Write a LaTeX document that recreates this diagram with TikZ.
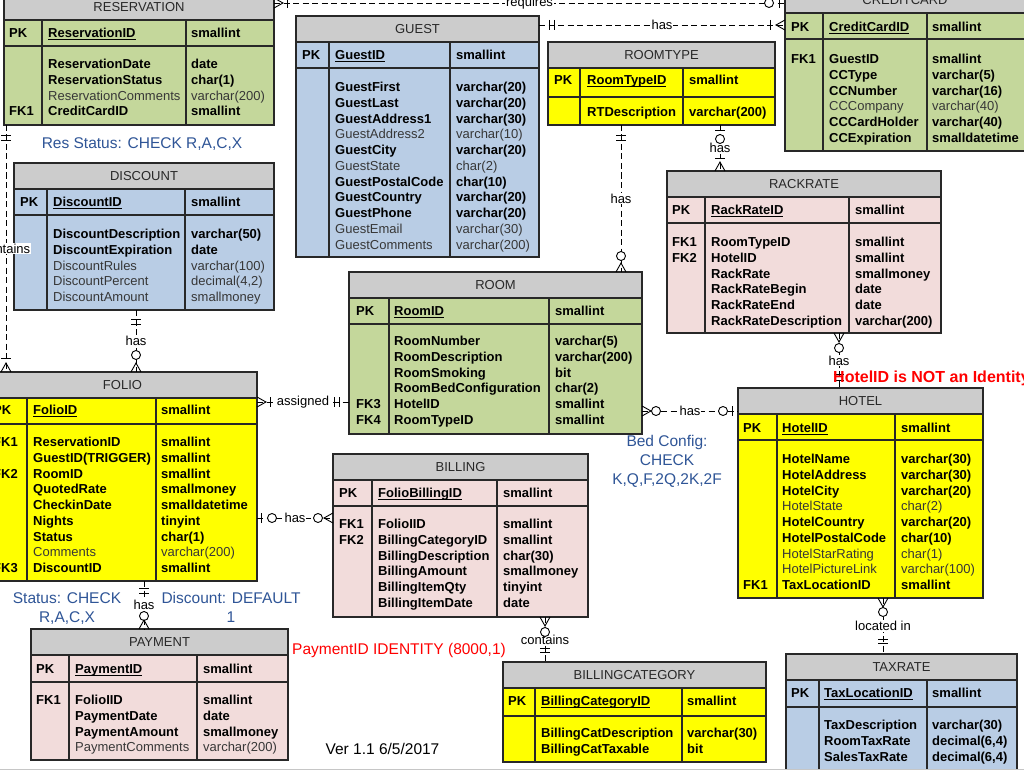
\documentclass[tikz,border=0pt]{standalone}
\usepackage{fontspec}
\setmainfont{Liberation Sans}
\usetikzlibrary{calc}
\definecolor{hdrgray}{RGB}{204,204,204}
\definecolor{grn}{RGB}{196,215,155}
\definecolor{blu}{RGB}{185,205,229}
\definecolor{pnk}{RGB}{242,220,219}
\definecolor{ylw}{RGB}{255,255,0}
\definecolor{tabdraw}{RGB}{40,40,40}
\definecolor{titletxt}{RGB}{40,40,40}
\definecolor{regtxt}{RGB}{55,55,55}
\definecolor{noteblue}{RGB}{47,85,151}
\definecolor{notered}{RGB}{255,0,0}
\newcommand\tabfont{\fontsize{13}{15.75}\selectfont}
\newcommand\notefont{\fontsize{15.5}{19}\selectfont}
\newcommand\Bf[1]{\strut\textbf{#1}}
\newcommand\Rg[1]{\strut\textcolor{regtxt}{#1}}
\newcommand\Em{\strut}
\newcommand\myul[1]{\setbox0\hbox{#1}\rlap{\rule[-2.3pt]{\wd0}{1.1pt}}\box0}
\def\pkh{52}
\newcommand\ertab[9]{%
  \node[tab, fill=#2, minimum width={#5-(#3)}, minimum height={#6-(#4)}] (#1) at (#3,#4) {};
  \fill[hdrgray] (#3,#4) rectangle (#5,#4+26);
  \draw[tabline] (#3,#4+26) -- (#5,#4+26) (#3,#4+\pkh) -- (#5,#4+\pkh) (#7,#4+26) -- (#7,#6) (#8,#4+26) -- (#8,#6);
  \draw[tabline] (#3,#4) rectangle (#5,#6);
  \node[ttl] (#1-title) at ({(#3+#5)/2},#4+13) {#9};
}
\newcommand\pkline[6]{%
  \node[cell, font=\tabfont\bfseries] (#1-pk) at (#2,#5+4.5) {PK};
  \node[cell] (#1-pkn) at (#3,#5+4.5) {\myul{\textbf{#6}}};
  \node[cell, font=\tabfont\bfseries] (#1-pkt) at (#4,#5+4.5) {smallint};
}
\newcommand\erbody[8]{%
  \node[colm] (#1-fk) at (#2,#5-6.525) {#6};
  \node[colm] (#1-fl) at (#3,#5-6.525) {#7};
  \node[colm] (#1-ty) at (#4,#5-6.525) {#8};
}
\begin{document}
\begin{tikzpicture}[x=1pt,y=-1pt,
  tab/.style={anchor=north west, inner sep=0pt, outer sep=0pt, draw=tabdraw, line width=1.1pt},
  tabline/.style={draw=tabdraw, line width=1.1pt},
  ttl/.style={font=\tabfont, text=titletxt, inner sep=0pt},
  cell/.style={anchor=base west, inner sep=0pt, font=\tabfont},
  colm/.style={anchor=north west, inner sep=0pt, align=left, font=\tabfont},
  rel/.style={draw=black, line width=0.9pt, dash pattern=on 6pt off 3.5pt},
  lab/.style={fill=white, inner sep=1pt, font=\tabfont},
  note/.style={font=\notefont, text=noteblue, inner sep=0pt, anchor=base},
  crow/.pic={\draw[solid, line width=0.9pt] (0,-5) -- (9,0) -- (0,5);},
  bar/.pic={\draw[solid, line width=0.9pt] (0,-5) -- (0,5);},
  ring/.pic={\draw[solid, line width=0.9pt, fill=white] (0,0) circle[radius=4.5pt];},
]
\path[use as bounding box] (0,0) rectangle (1024,770);
\fill[white] (0,0) rectangle (1024,770);
\clip (0,0) rectangle (1024,770);

% ---------------- tables ----------------
\ertab{res}{grn}{4}{-6}{274}{125}{42}{186}{RESERVATION}
\pkline{res}{9}{48}{191}{33}{ReservationID}
\erbody{res}{9}{48}{191}{64}{\Em\\\Em\\\Em\\\Bf{FK1}}{\Bf{ReservationDate}\\\Bf{ReservationStatus}\\\Rg{ReservationComments}\\\Bf{CreditCardID}}{\Bf{date}\\\Bf{char(1)}\\\Rg{varchar(200)}\\\Bf{smallint}}

\ertab{guest}{blu}{296}{16}{539}{257}{329}{450}{GUEST}
\pkline{guest}{302}{335}{456}{55}{GuestID}
\erbody{guest}{302}{335}{456}{87}{}{\Bf{GuestFirst}\\\Bf{GuestLast}\\\Bf{GuestAddress1}\\\Rg{GuestAddress2}\\\Bf{GuestCity}\\\Rg{GuestState}\\\Bf{GuestPostalCode}\\\Bf{GuestCountry}\\\Bf{GuestPhone}\\\Rg{GuestEmail}\\\Rg{GuestComments}}{\Bf{varchar(20)}\\\Bf{varchar(20)}\\\Bf{varchar(30)}\\\Rg{varchar(10)}\\\Bf{varchar(20)}\\\Rg{char(2)}\\\Bf{char(10)}\\\Bf{varchar(20)}\\\Bf{varchar(20)}\\\Rg{varchar(30)}\\\Rg{varchar(200)}}

\def\pkh{55}
\ertab{rtype}{ylw}{548}{42}{775}{125}{580}{683}{ROOMTYPE}
\pkline{rtype}{554}{587}{689}{80}{RoomTypeID}
\erbody{rtype}{554}{587}{689}{112}{}{\Bf{RTDescription}}{\Bf{varchar(200)}}
\def\pkh{52}

\ertab{cc}{grn}{785}{-13}{1025}{151}{823}{927}{CREDITCARD}
\pkline{cc}{791}{829}{932}{27}{CreditCardID}
\erbody{cc}{791}{829}{932}{59}{\Bf{FK1}}{\Bf{GuestID}\\\Bf{CCType}\\\Bf{CCNumber}\\\Rg{CCCompany}\\\Bf{CCCardHolder}\\\Bf{CCExpiration}}{\Bf{smallint}\\\Bf{varchar(5)}\\\Bf{varchar(16)}\\\Rg{varchar(40)}\\\Bf{varchar(40)}\\\Bf{smalldatetime}}

\ertab{disc}{blu}{14}{163}{274}{310}{47}{185}{DISCOUNT}
\pkline{disc}{20}{53}{191}{202}{DiscountID}
\erbody{disc}{20}{53}{191}{234}{}{\Bf{DiscountDescription}\\\Bf{DiscountExpiration}\\\Rg{DiscountRules}\\\Rg{DiscountPercent}\\\Rg{DiscountAmount}}{\Bf{varchar(50)}\\\Bf{date}\\\Rg{varchar(100)}\\\Rg{decimal(4,2)}\\\Rg{smallmoney}}

\ertab{room}{grn}{349}{272}{642}{434}{389}{549}{ROOM}
\pkline{room}{356}{394}{555}{311}{RoomID}
\erbody{room}{356}{394}{555}{341}{\Em\\\Em\\\Em\\\Em\\\Bf{FK3}\\\Bf{FK4}}{\Bf{RoomNumber}\\\Bf{RoomDescription}\\\Bf{RoomSmoking}\\\Bf{RoomBedConfiguration}\\\Bf{HotelID}\\\Bf{RoomTypeID}}{\Bf{varchar(5)}\\\Bf{varchar(200)}\\\Bf{bit}\\\Bf{char(2)}\\\Bf{smallint}\\\Bf{smallint}}

\ertab{rack}{pnk}{667}{171}{941}{333}{705}{849}{RACKRATE}
\pkline{rack}{672}{711}{855}{210}{RackRateID}
\erbody{rack}{672}{711}{855}{242}{\Bf{FK1}\\\Bf{FK2}}{\Bf{RoomTypeID}\\\Bf{HotelID}\\\Bf{RackRate}\\\Bf{RackRateBegin}\\\Bf{RackRateEnd}\\\Bf{RackRateDescription}}{\Bf{smallint}\\\Bf{smallint}\\\Bf{smallmoney}\\\Bf{date}\\\Bf{date}\\\Bf{varchar(200)}}

\ertab{folio}{ylw}{-12}{372}{257}{581}{27}{156}{FOLIO}
\pkline{folio}{-7}{33}{161}{410}{FolioID}
\erbody{folio}{-7}{33}{161}{442}{\Bf{FK1}\\\Em\\\Bf{FK2}\\\Em\\\Em\\\Em\\\Em\\\Em\\\Bf{FK3}}{\Bf{ReservationID}\\\Bf{GuestID(TRIGGER)}\\\Bf{RoomID}\\\Bf{QuotedRate}\\\Bf{CheckinDate}\\\Bf{Nights}\\\Bf{Status}\\\Rg{Comments}\\\Bf{DiscountID}}{\Bf{smallint}\\\Bf{smallint}\\\Bf{smallint}\\\Bf{smallmoney}\\\Bf{smalldatetime}\\\Bf{tinyint}\\\Bf{char(1)}\\\Rg{varchar(200)}\\\Bf{smallint}}

\ertab{hotel}{ylw}{738}{388}{983}{598}{777}{895}{HOTEL}
\pkline{hotel}{743}{782}{901}{428}{HotelID}
\erbody{hotel}{743}{782}{901}{459}{\Em\\\Em\\\Em\\\Em\\\Em\\\Em\\\Em\\\Em\\\Bf{FK1}}{\Bf{HotelName}\\\Bf{HotelAddress}\\\Bf{HotelCity}\\\Rg{HotelState}\\\Bf{HotelCountry}\\\Bf{HotelPostalCode}\\\Rg{HotelStarRating}\\\Rg{HotelPictureLink}\\\Bf{TaxLocationID}}{\Bf{varchar(30)}\\\Bf{varchar(30)}\\\Bf{varchar(20)}\\\Rg{char(2)}\\\Bf{varchar(20)}\\\Bf{char(10)}\\\Rg{char(1)}\\\Rg{varchar(100)}\\\Bf{smallint}}

\ertab{bill}{pnk}{333}{454}{588}{617}{372}{497}{BILLING}
\pkline{bill}{339}{378}{503}{493}{FolioBillingID}
\erbody{bill}{339}{378}{503}{524}{\Bf{FK1}\\\Bf{FK2}}{\Bf{FolioIID}\\\Bf{BillingCategoryID}\\\Bf{BillingDescription}\\\Bf{BillingAmount}\\\Bf{BillingItemQty}\\\Bf{BillingItemDate}}{\Bf{smallint}\\\Bf{smallint}\\\Bf{char(30)}\\\Bf{smallmoney}\\\Bf{tinyint}\\\Bf{date}}

\def\pkh{54}
\ertab{bcat}{ylw}{503}{662}{766}{762}{535}{682}{BILLINGCATEGORY}
\pkline{bcat}{508}{541}{687}{701}{BillingCategoryID}
\erbody{bcat}{508}{541}{687}{733}{}{\Bf{BillingCatDescription}\\\Bf{BillingCatTaxable}}{\Bf{varchar(30)}\\\Bf{bit}}

\def\pkh{53}
\ertab{tax}{blu}{786}{654}{1017}{790}{819}{927}{TAXRATE}
\pkline{tax}{791}{824}{932}{693}{TaxLocationID}
\erbody{tax}{791}{824}{932}{725}{}{\Bf{TaxDescription}\\\Bf{RoomTaxRate}\\\Bf{SalesTaxRate}}{\Bf{varchar(30)}\\\Bf{decimal(6,4)}\\\Bf{decimal(6,4)}}

\ertab{pay}{pnk}{31}{629}{288}{760}{69}{197}{PAYMENT}
\pkline{pay}{36}{75}{203}{669}{PaymentID}
\erbody{pay}{36}{75}{203}{700}{\Bf{FK1}}{\Bf{FolioIID}\\\Bf{PaymentDate}\\\Bf{PaymentAmount}\\\Rg{PaymentComments}}{\Bf{smallint}\\\Bf{date}\\\Bf{smallmoney}\\\Rg{varchar(200)}}
\def\pkh{52}

% ---------------- connectors ----------------
\draw[rel] (res.east |- 0,3) -- node[lab] (l-req) {requires} (cc.west |- 0,3);
\draw[rel] (guest.east |- 0,25) -- node[lab] (l-gcc) {has} (cc.west |- 0,25);
\draw[rel] (res.south -| 6,0) -- node[lab] (l-rf) {contains} (folio.north -| 6,0);
\draw[rel] (disc.south -| 136,0) -- node[lab] (l-df) {has} (folio.north -| 136,0);
\draw[rel] (folio.east |- 0,402) -- node[lab] (l-fr) {assigned} (room.west |- 0,402);
\draw[rel] (folio.east |- 0,518) -- node[lab] (l-fb) {has} (bill.west |- 0,518);
\draw[rel] (folio.south -| 144,0) -- node[lab] (l-fp) {has} (pay.north -| 144,0);
\draw[rel] (rtype.south -| 621,0) -- node[lab] (l-rtr) {has} (room.north -| 621,0);
\draw[rel] (rtype.south -| 720,0) -- node[lab] (l-rtk) {has} (rack.north -| 720,0);
\draw[rel] (rack.south -| 839,0) -- node[lab] (l-rh) {has} (hotel.north -| 839,0);
\draw[rel] (room.east |- 0,411) -- node[lab] (l-roh) {has} (hotel.west |- 0,411);
\draw[rel] (bill.south -| 545,0) -- node[lab] (l-bc) {contains} (bcat.north -| 545,0);
\draw[rel] (hotel.south -| 883,0) -- node[lab] (l-ht) {located in} (tax.north -| 883,0);

% ---------------- end marks ----------------
% requires
\pic at (274,3) {crow}; \pic at (287,3) {bar}; \pic at (769,3) {ring}; \pic at (779,3) {bar};
% guest - creditcard
\pic at (549,25) {bar}; \pic at (554,25) {bar}; \pic at (770,25) {bar}; \pic[rotate=180] at (785,25) {crow};
% reservation - folio
\pic[rotate=90] at (6,135) {bar}; \pic[rotate=90] at (6,140) {bar};
\pic[rotate=90] at (6,358) {bar}; \pic[rotate=90] at (6,372) {crow};
% discount - folio
\pic[rotate=90] at (136,319) {bar}; \pic[rotate=90] at (136,324) {bar};
\pic[rotate=90] at (136,355) {ring}; \pic[rotate=90] at (136,372) {crow};
% folio - room
\pic at (257,402) {crow}; \pic at (270,402) {bar}; \pic at (334,402) {bar}; \pic at (339,402) {bar};
% folio - billing
\pic at (261,518) {bar}; \pic at (272,518) {ring}; \pic at (318,518) {ring}; \pic[rotate=180] at (333,518) {crow};
% folio - payment
\pic[rotate=90] at (144,588) {bar}; \pic[rotate=90] at (144,593) {bar};
\pic at (144,616) {ring}; \pic[rotate=90] at (144,629) {crow};
% roomtype - room
\pic[rotate=90] at (621,135) {bar}; \pic[rotate=90] at (621,140) {bar};
\pic at (621,256) {ring}; \pic[rotate=90] at (621,272) {crow};
% roomtype - rackrate
\pic[rotate=90] at (720,130) {bar}; \pic at (720,139) {ring};
\pic[rotate=90] at (720,158) {bar}; \pic[rotate=90] at (720,171) {crow};
% rackrate - hotel
\pic[rotate=-90] at (839,333) {crow}; \pic at (839,348) {ring};
\pic[rotate=90] at (839,374) {bar}; \pic[rotate=90] at (839,380) {bar};
% room - hotel
\pic at (642,411) {crow}; \pic at (656,411) {ring}; \pic at (723,411) {ring}; \pic at (732,411) {bar};
% billing - billingcategory
\pic[rotate=-90] at (545,617) {crow}; \pic at (545,632) {ring};
\pic[rotate=90] at (545,648) {bar}; \pic[rotate=90] at (545,652) {bar};
% hotel - taxrate
\pic[rotate=-90] at (883,598) {crow}; \pic at (883,612) {ring};
\pic[rotate=90] at (883,639) {bar}; \pic[rotate=90] at (883,643) {bar};

% ---------------- notes ----------------
\node[note] (n-res) at (142,148.5) {Res Status: CHECK R,A,C,X};
\node[note] (n-st1) at (67,603.5) {Status: CHECK};
\node[note] (n-st2) at (67,622.5) {R,A,C,X};
\node[note] (n-di1) at (231,603.5) {Discount: DEFAULT};
\node[note] (n-di2) at (231,622.5) {1};
\node[note] (n-bed1) at (667,446.5) {Bed Config:};
\node[note] (n-bed2) at (667,465.5) {CHECK};
\node[note] (n-bed3) at (667,484) {K,Q,F,2Q,2K,2F};
\node[note, text=notered, anchor=base west] (n-pay) at (292,654.5) {PaymentID IDENTITY (8000,1)};
\node[note, text=notered, anchor=base west, font=\fontsize{16}{19}\selectfont\bfseries] (n-hot) at (833,382.7) {HotelID is NOT an Identity};
\node[note, text=black] (n-ver) at (382.5,754.5) {Ver 1.1 6/5/2017};
\draw[gray!45, line width=1.2pt] (0,769.3) -- (1024,769.3);
\end{tikzpicture}
\end{document}
